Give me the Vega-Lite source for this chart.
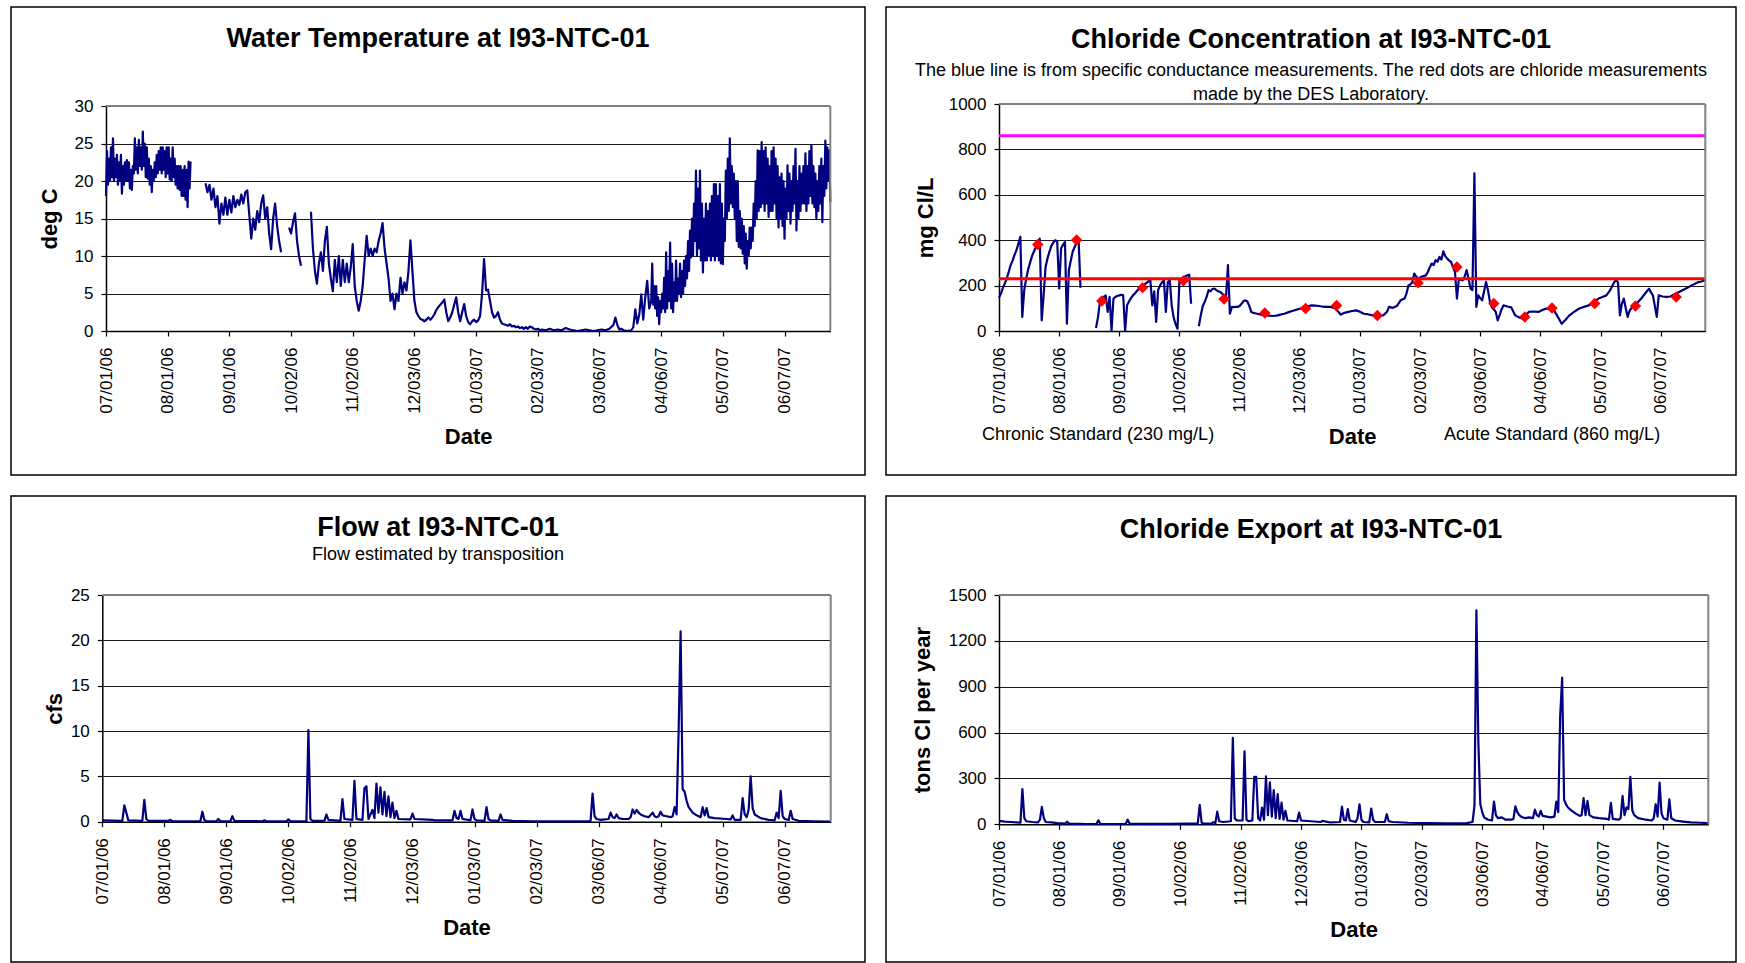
{
"$schema": "https://vega.github.io/schema/vega-lite/v6.json",
"background": "white",
"padding": {"left": 10, "top": 6, "right": 0, "bottom": 0},
"spacing": 21,
"columns": 2,
"bounds": "flush",
"resolve": {"scale": {"color": "independent"}, "legend": {"color": "independent"}},
"config": {
  "font": "Liberation Sans",
  "view": {"stroke": "#000000", "strokeWidth": 1.5},
  "axis": {"labelFont": "Liberation Sans", "labelFontSize": 17, "labelColor": "#000000", "titleFont": "Liberation Sans", "titleFontSize": 22, "titleFontWeight": "bold", "titleColor": "#000000", "domainColor": "#000000", "domainWidth": 1.5, "tickColor": "#000000", "tickSize": 5, "tickWidth": 1.2, "gridColor": "#1a1a1a", "gridWidth": 1, "labelFlush": false, "labelOverlap": false},
  "axisX": {"labelAngle": -90, "grid": false, "labelPadding": 11, "titlePadding": 13.5},
  "axisY": {"grid": true, "labelPadding": 8, "format": "d"},
  "title": {"font": "Liberation Sans", "fontSize": 27, "fontWeight": "bold", "color": "#000000", "subtitleFont": "Liberation Sans", "subtitleFontSize": 18, "subtitleColor": "#000000", "anchor": "middle", "frame": "group", "subtitleLineHeight": 24}
},
"datasets": {
"temp": [
{"d":"2006-07-01","v":18},{"d":"2006-07-01T12:00Z","v":24},{"d":"2006-07-02","v":19.5},{"d":"2006-07-02T12:00Z","v":23},{"d":"2006-07-03","v":20},{"d":"2006-07-03T12:00Z","v":24.5},{"d":"2006-07-04","v":20.5},{"d":"2006-07-04T12:00Z","v":25.7},{"d":"2006-07-05","v":20},{"d":"2006-07-05T12:00Z","v":23},{"d":"2006-07-06","v":20.5},{"d":"2006-07-06T12:00Z","v":23.5},{"d":"2006-07-07","v":19.5},{"d":"2006-07-07T12:00Z","v":22.5},{"d":"2006-07-08","v":20},{"d":"2006-07-08T12:00Z","v":23.5},{"d":"2006-07-09","v":18.3},{"d":"2006-07-09T12:00Z","v":22},{"d":"2006-07-10","v":19.5},{"d":"2006-07-10T12:00Z","v":22.5},{"d":"2006-07-11","v":20},{"d":"2006-07-11T12:00Z","v":22.8},{"d":"2006-07-12","v":20},{"d":"2006-07-12T12:00Z","v":22.5},{"d":"2006-07-13","v":19},{"d":"2006-07-13T12:00Z","v":21.5},{"d":"2006-07-14","v":18.8},{"d":"2006-07-14T12:00Z","v":22},{"d":"2006-07-15","v":21},{"d":"2006-07-15T12:00Z","v":25.7},{"d":"2006-07-16","v":21.5},{"d":"2006-07-16T12:00Z","v":24.5},{"d":"2006-07-17","v":21},{"d":"2006-07-17T12:00Z","v":25.5},{"d":"2006-07-18","v":22},{"d":"2006-07-18T12:00Z","v":24.5},{"d":"2006-07-19","v":21.5},{"d":"2006-07-19T12:00Z","v":26.6},{"d":"2006-07-20","v":22},{"d":"2006-07-20T12:00Z","v":25},{"d":"2006-07-21","v":20.5},{"d":"2006-07-21T12:00Z","v":24.5},{"d":"2006-07-22","v":20.3},{"d":"2006-07-22T12:00Z","v":23},{"d":"2006-07-23","v":19.5},{"d":"2006-07-23T12:00Z","v":22},{"d":"2006-07-24","v":18.5},{"d":"2006-07-24T12:00Z","v":21.5},{"d":"2006-07-25","v":20},{"d":"2006-07-25T12:00Z","v":22.5},{"d":"2006-07-26","v":20.5},{"d":"2006-07-26T12:00Z","v":23.5},{"d":"2006-07-27","v":21},{"d":"2006-07-27T12:00Z","v":24},{"d":"2006-07-28","v":21.5},{"d":"2006-07-28T12:00Z","v":24.5},{"d":"2006-07-29","v":21},{"d":"2006-07-29T12:00Z","v":24.5},{"d":"2006-07-30","v":21.5},{"d":"2006-07-30T12:00Z","v":24},{"d":"2006-07-31","v":20.5},{"d":"2006-07-31T12:00Z","v":24.5},
{"d":"2006-08-01","v":21},{"d":"2006-08-01T12:00Z","v":24.5},{"d":"2006-08-02","v":20.2},{"d":"2006-08-02T12:00Z","v":23},{"d":"2006-08-03","v":20},{"d":"2006-08-03T12:00Z","v":24.5},{"d":"2006-08-04","v":20.5},{"d":"2006-08-04T12:00Z","v":23},{"d":"2006-08-05","v":19.5},{"d":"2006-08-05T12:00Z","v":22},{"d":"2006-08-06","v":19},{"d":"2006-08-06T12:00Z","v":22},{"d":"2006-08-07","v":18.8},{"d":"2006-08-07T12:00Z","v":22},{"d":"2006-08-08","v":18},{"d":"2006-08-08T12:00Z","v":21.5},{"d":"2006-08-09","v":18},{"d":"2006-08-09T12:00Z","v":22},{"d":"2006-08-10","v":17.5},{"d":"2006-08-10T12:00Z","v":21.5},{"d":"2006-08-11","v":16.5},{"d":"2006-08-11T12:00Z","v":22.6},{"d":"2006-08-12","v":19},{"d":"2006-08-12T12:00Z","v":22.6},{"d":"2006-08-13","v":null},
{"d":"2006-08-20","v":19.7},{"d":"2006-08-21","v":18.5},{"d":"2006-08-22","v":19.5},{"d":"2006-08-23","v":17.5},{"d":"2006-08-24","v":19},{"d":"2006-08-25","v":16.5},{"d":"2006-08-26","v":18},{"d":"2006-08-27","v":14.3},{"d":"2006-08-28","v":17},{"d":"2006-08-29","v":15.5},{"d":"2006-08-30","v":17.8},{"d":"2006-08-31","v":15.5},
{"d":"2006-09-01","v":17.5},{"d":"2006-09-02","v":15.8},{"d":"2006-09-03","v":18},{"d":"2006-09-04","v":16.5},{"d":"2006-09-05","v":17.5},{"d":"2006-09-06","v":16.8},{"d":"2006-09-07","v":18.2},{"d":"2006-09-08","v":17},{"d":"2006-09-09","v":18.5},{"d":"2006-09-10","v":18.75},{"d":"2006-09-11","v":15.5},{"d":"2006-09-12","v":12.3},{"d":"2006-09-13","v":15},{"d":"2006-09-14","v":13.5},{"d":"2006-09-15","v":16},{"d":"2006-09-16","v":14.5},{"d":"2006-09-17","v":17},{"d":"2006-09-18","v":18.1},{"d":"2006-09-19","v":15},{"d":"2006-09-20","v":16.5},{"d":"2006-09-21","v":13},{"d":"2006-09-22","v":10.9},{"d":"2006-09-23","v":15},{"d":"2006-09-24","v":17},{"d":"2006-09-25","v":14},{"d":"2006-09-26","v":12},{"d":"2006-09-27","v":10.5},{"d":"2006-09-28","v":null},
{"d":"2006-10-01","v":13.8},{"d":"2006-10-02","v":13},{"d":"2006-10-03","v":14.5},{"d":"2006-10-04","v":15.7},{"d":"2006-10-05","v":12},{"d":"2006-10-06","v":10},{"d":"2006-10-07","v":8.7},{"d":"2006-10-08","v":null},
{"d":"2006-10-12","v":15.9},{"d":"2006-10-13","v":11},{"d":"2006-10-14","v":8},{"d":"2006-10-15","v":6.3},{"d":"2006-10-16","v":9},{"d":"2006-10-17","v":10.5},{"d":"2006-10-18","v":8},{"d":"2006-10-19","v":12},{"d":"2006-10-20","v":13.9},{"d":"2006-10-21","v":9},{"d":"2006-10-22","v":7},{"d":"2006-10-23","v":5.3},{"d":"2006-10-24","v":9.5},{"d":"2006-10-25","v":6.5},{"d":"2006-10-26","v":10},{"d":"2006-10-27","v":6},{"d":"2006-10-28","v":9.5},{"d":"2006-10-29","v":6.5},{"d":"2006-10-30","v":9},{"d":"2006-10-31","v":6.5},
{"d":"2006-11-01","v":8.5},{"d":"2006-11-02","v":11.6},{"d":"2006-11-03","v":6},{"d":"2006-11-04","v":4},{"d":"2006-11-05","v":2.7},{"d":"2006-11-06","v":4},{"d":"2006-11-07","v":6},{"d":"2006-11-08","v":9.5},{"d":"2006-11-09","v":12.7},{"d":"2006-11-10","v":10},{"d":"2006-11-11","v":11},{"d":"2006-11-12","v":10},{"d":"2006-11-13","v":11},{"d":"2006-11-14","v":10.5},{"d":"2006-11-15","v":12},{"d":"2006-11-16","v":13},{"d":"2006-11-17","v":14.4},{"d":"2006-11-18","v":11},{"d":"2006-11-19","v":9},{"d":"2006-11-20","v":7},{"d":"2006-11-21","v":4},{"d":"2006-11-22","v":5},{"d":"2006-11-23","v":2.9},{"d":"2006-11-24","v":5},{"d":"2006-11-25","v":4},{"d":"2006-11-26","v":7.1},{"d":"2006-11-27","v":5},{"d":"2006-11-28","v":6.5},{"d":"2006-11-29","v":5.4},{"d":"2006-11-30","v":8},
{"d":"2006-12-01","v":12.1},{"d":"2006-12-02","v":8},{"d":"2006-12-03","v":4},{"d":"2006-12-04","v":2.5},{"d":"2006-12-05","v":2},{"d":"2006-12-06","v":1.6},{"d":"2006-12-07","v":1.5},{"d":"2006-12-08","v":1.3},{"d":"2006-12-09","v":1.5},{"d":"2006-12-10","v":1.8},{"d":"2006-12-11","v":1.5},{"d":"2006-12-12","v":1.8},{"d":"2006-12-13","v":2.2},{"d":"2006-12-14","v":2.8},{"d":"2006-12-15","v":3.2},{"d":"2006-12-16","v":3.5},{"d":"2006-12-17","v":3.8},{"d":"2006-12-18","v":4.2},{"d":"2006-12-19","v":2.5},{"d":"2006-12-20","v":1.3},{"d":"2006-12-21","v":1.8},{"d":"2006-12-22","v":2.5},{"d":"2006-12-23","v":3.5},{"d":"2006-12-24","v":4.5},{"d":"2006-12-25","v":2.5},{"d":"2006-12-26","v":1.3},{"d":"2006-12-27","v":2.5},{"d":"2006-12-28","v":3.6},{"d":"2006-12-29","v":2},{"d":"2006-12-30","v":1.2},{"d":"2006-12-31","v":0.9},
{"d":"2007-01-01","v":1.3},{"d":"2007-01-02","v":1.5},{"d":"2007-01-03","v":1.2},{"d":"2007-01-04","v":1.4},{"d":"2007-01-05","v":2},{"d":"2007-01-06","v":5},{"d":"2007-01-07","v":9.6},{"d":"2007-01-08","v":5.4},{"d":"2007-01-09","v":5.5},{"d":"2007-01-10","v":4},{"d":"2007-01-11","v":2.5},{"d":"2007-01-12","v":1.8},{"d":"2007-01-13","v":2},{"d":"2007-01-14","v":2.5},{"d":"2007-01-15","v":1.5},{"d":"2007-01-16","v":1},{"d":"2007-01-17","v":0.9},{"d":"2007-01-18","v":0.8},{"d":"2007-01-19","v":0.7},{"d":"2007-01-20","v":0.9},{"d":"2007-01-21","v":0.6},{"d":"2007-01-22","v":0.7},{"d":"2007-01-23","v":0.5},{"d":"2007-01-24","v":0.6},{"d":"2007-01-25","v":0.4},{"d":"2007-01-26","v":0.5},{"d":"2007-01-27","v":0.3},{"d":"2007-01-28","v":0.5},{"d":"2007-01-29","v":0.3},{"d":"2007-01-30","v":0.6},{"d":"2007-01-31","v":0.5},
{"d":"2007-02-01","v":0.3},{"d":"2007-02-02","v":0.2},{"d":"2007-02-03","v":0.3},{"d":"2007-02-04","v":0.1},{"d":"2007-02-05","v":0.2},{"d":"2007-02-07","v":0.1},{"d":"2007-02-09","v":0.3},{"d":"2007-02-11","v":0.1},{"d":"2007-02-13","v":0.2},{"d":"2007-02-15","v":0.1},{"d":"2007-02-17","v":0.4},{"d":"2007-02-19","v":0.2},{"d":"2007-02-21","v":0.1},{"d":"2007-02-23","v":0},{"d":"2007-02-25","v":0.1},{"d":"2007-02-27","v":0.2},
{"d":"2007-03-01","v":0.1},{"d":"2007-03-03","v":0},{"d":"2007-03-05","v":0.1},{"d":"2007-03-07","v":0.2},{"d":"2007-03-09","v":0.1},{"d":"2007-03-11","v":0.3},{"d":"2007-03-13","v":0.8},{"d":"2007-03-14","v":1.8},{"d":"2007-03-15","v":0.8},{"d":"2007-03-16","v":0.2},{"d":"2007-03-17","v":0.3},{"d":"2007-03-18","v":0.1},{"d":"2007-03-20","v":0},{"d":"2007-03-22","v":0.1},{"d":"2007-03-23","v":0.5},{"d":"2007-03-24","v":2.9},{"d":"2007-03-25","v":1},{"d":"2007-03-26","v":2.2},{"d":"2007-03-27","v":4.9},{"d":"2007-03-28","v":1.5},{"d":"2007-03-29","v":4.5},{"d":"2007-03-30","v":6.7},{"d":"2007-03-31","v":3},
{"d":"2007-04-01","v":4},{"d":"2007-04-01T12:00Z","v":9},{"d":"2007-04-02","v":3.5},{"d":"2007-04-02T12:00Z","v":6},{"d":"2007-04-03","v":3},{"d":"2007-04-03T12:00Z","v":6},{"d":"2007-04-04","v":2},{"d":"2007-04-04T12:00Z","v":4.5},{"d":"2007-04-05","v":0.9},{"d":"2007-04-05T12:00Z","v":4},{"d":"2007-04-06","v":2.5},{"d":"2007-04-06T12:00Z","v":5},{"d":"2007-04-07","v":3},{"d":"2007-04-07T12:00Z","v":7.1},{"d":"2007-04-08","v":2.5},{"d":"2007-04-08T12:00Z","v":10.5},{"d":"2007-04-09","v":3},{"d":"2007-04-09T12:00Z","v":8},{"d":"2007-04-10","v":4},{"d":"2007-04-10T12:00Z","v":11.8},{"d":"2007-04-11","v":3},{"d":"2007-04-11T12:00Z","v":9},{"d":"2007-04-12","v":2.5},{"d":"2007-04-12T12:00Z","v":6.5},{"d":"2007-04-13","v":4},{"d":"2007-04-13T12:00Z","v":9.4},{"d":"2007-04-14","v":4},{"d":"2007-04-14T12:00Z","v":7},{"d":"2007-04-15","v":5},{"d":"2007-04-15T12:00Z","v":9},{"d":"2007-04-16","v":4.5},{"d":"2007-04-16T12:00Z","v":8},{"d":"2007-04-17","v":5},{"d":"2007-04-17T12:00Z","v":9.4},{"d":"2007-04-18","v":6},{"d":"2007-04-18T12:00Z","v":10},{"d":"2007-04-19","v":7},{"d":"2007-04-19T12:00Z","v":12},{"d":"2007-04-20","v":8},{"d":"2007-04-20T12:00Z","v":13.4},{"d":"2007-04-21","v":9.8},{"d":"2007-04-21T12:00Z","v":15},{"d":"2007-04-22","v":10},{"d":"2007-04-22T12:00Z","v":17},{"d":"2007-04-23","v":12},{"d":"2007-04-23T12:00Z","v":21.4},{"d":"2007-04-24","v":10},{"d":"2007-04-24T12:00Z","v":19},{"d":"2007-04-25","v":11},{"d":"2007-04-25T12:00Z","v":21.4},{"d":"2007-04-26","v":9.4},{"d":"2007-04-26T12:00Z","v":17},{"d":"2007-04-27","v":7.8},{"d":"2007-04-27T12:00Z","v":15},{"d":"2007-04-28","v":9.4},{"d":"2007-04-28T12:00Z","v":17},{"d":"2007-04-29","v":9.4},{"d":"2007-04-29T12:00Z","v":16},{"d":"2007-04-30","v":10},{"d":"2007-04-30T12:00Z","v":17},
{"d":"2007-05-01","v":9.4},{"d":"2007-05-01T12:00Z","v":18},{"d":"2007-05-02","v":10},{"d":"2007-05-02T12:00Z","v":19.6},{"d":"2007-05-03","v":9.4},{"d":"2007-05-03T12:00Z","v":19.6},{"d":"2007-05-04","v":10},{"d":"2007-05-04T12:00Z","v":18},{"d":"2007-05-05","v":9.4},{"d":"2007-05-05T12:00Z","v":19.6},{"d":"2007-05-06","v":9},{"d":"2007-05-06T12:00Z","v":17},{"d":"2007-05-07","v":8.9},{"d":"2007-05-07T12:00Z","v":15},{"d":"2007-05-08","v":12},{"d":"2007-05-08T12:00Z","v":21.4},{"d":"2007-05-09","v":15},{"d":"2007-05-09T12:00Z","v":23},{"d":"2007-05-10","v":16},{"d":"2007-05-10T12:00Z","v":25.7},{"d":"2007-05-11","v":17},{"d":"2007-05-11T12:00Z","v":22},{"d":"2007-05-12","v":16.5},{"d":"2007-05-12T12:00Z","v":21},{"d":"2007-05-13","v":15},{"d":"2007-05-13T12:00Z","v":20},{"d":"2007-05-14","v":12},{"d":"2007-05-14T12:00Z","v":20},{"d":"2007-05-15","v":11.2},{"d":"2007-05-15T12:00Z","v":16},{"d":"2007-05-16","v":11},{"d":"2007-05-16T12:00Z","v":15},{"d":"2007-05-17","v":10.3},{"d":"2007-05-17T12:00Z","v":14},{"d":"2007-05-18","v":9},{"d":"2007-05-18T12:00Z","v":13},{"d":"2007-05-19","v":8.3},{"d":"2007-05-19T12:00Z","v":12},{"d":"2007-05-20","v":10},{"d":"2007-05-20T12:00Z","v":13.8},{"d":"2007-05-21","v":11},{"d":"2007-05-21T12:00Z","v":13.8},{"d":"2007-05-22","v":12},{"d":"2007-05-22T12:00Z","v":17},{"d":"2007-05-23","v":14},{"d":"2007-05-23T12:00Z","v":20},{"d":"2007-05-24","v":15},{"d":"2007-05-24T12:00Z","v":24.1},{"d":"2007-05-25","v":16},{"d":"2007-05-25T12:00Z","v":24},{"d":"2007-05-26","v":16.5},{"d":"2007-05-26T12:00Z","v":25.2},{"d":"2007-05-27","v":17},{"d":"2007-05-27T12:00Z","v":24},{"d":"2007-05-28","v":16},{"d":"2007-05-28T12:00Z","v":24.5},{"d":"2007-05-29","v":17},{"d":"2007-05-29T12:00Z","v":23},{"d":"2007-05-30","v":15.2},{"d":"2007-05-30T12:00Z","v":22},{"d":"2007-05-31","v":16},{"d":"2007-05-31T12:00Z","v":24},
{"d":"2007-06-01","v":16},{"d":"2007-06-01T12:00Z","v":24.5},{"d":"2007-06-02","v":17},{"d":"2007-06-02T12:00Z","v":23},{"d":"2007-06-03","v":15},{"d":"2007-06-03T12:00Z","v":22},{"d":"2007-06-04","v":13.8},{"d":"2007-06-04T12:00Z","v":20.5},{"d":"2007-06-05","v":15},{"d":"2007-06-05T12:00Z","v":21},{"d":"2007-06-06","v":14},{"d":"2007-06-06T12:00Z","v":20},{"d":"2007-06-07","v":12.3},{"d":"2007-06-07T12:00Z","v":19},{"d":"2007-06-08","v":15},{"d":"2007-06-08T12:00Z","v":22.1},{"d":"2007-06-09","v":16},{"d":"2007-06-09T12:00Z","v":21},{"d":"2007-06-10","v":14.3},{"d":"2007-06-10T12:00Z","v":20},{"d":"2007-06-11","v":16},{"d":"2007-06-11T12:00Z","v":22},{"d":"2007-06-12","v":17},{"d":"2007-06-12T12:00Z","v":24.3},{"d":"2007-06-13","v":13.4},{"d":"2007-06-13T12:00Z","v":20},{"d":"2007-06-14","v":15},{"d":"2007-06-14T12:00Z","v":22},{"d":"2007-06-15","v":16},{"d":"2007-06-15T12:00Z","v":21},{"d":"2007-06-16","v":17},{"d":"2007-06-16T12:00Z","v":22},{"d":"2007-06-17","v":17},{"d":"2007-06-17T12:00Z","v":23.7},{"d":"2007-06-18","v":16},{"d":"2007-06-18T12:00Z","v":22},{"d":"2007-06-19","v":17},{"d":"2007-06-19T12:00Z","v":24},{"d":"2007-06-20","v":18},{"d":"2007-06-20T12:00Z","v":24.8},{"d":"2007-06-21","v":17},{"d":"2007-06-21T12:00Z","v":22},{"d":"2007-06-22","v":16.5},{"d":"2007-06-22T12:00Z","v":21},{"d":"2007-06-23","v":15},{"d":"2007-06-23T12:00Z","v":20},{"d":"2007-06-24","v":16},{"d":"2007-06-24T12:00Z","v":22},{"d":"2007-06-25","v":17},{"d":"2007-06-25T12:00Z","v":23},{"d":"2007-06-26","v":14.5},{"d":"2007-06-26T12:00Z","v":22},{"d":"2007-06-27","v":18},{"d":"2007-06-27T12:00Z","v":25.4},{"d":"2007-06-28","v":19},{"d":"2007-06-28T12:00Z","v":24.5},{"d":"2007-06-29","v":20},{"d":"2007-06-29T12:00Z","v":24.1},{"d":"2007-06-30","v":17.2}
],
"chl": [
{"d":"2006-07-01","v":147},{"d":"2006-07-02","v":165},{"d":"2006-07-03","v":190},{"d":"2006-07-04","v":210},{"d":"2006-07-05","v":231},{"d":"2006-07-06","v":260},{"d":"2006-07-07","v":290},{"d":"2006-07-08","v":310},{"d":"2006-07-09","v":335},{"d":"2006-07-10","v":356},{"d":"2006-07-11","v":385},{"d":"2006-07-12","v":415},{"d":"2006-07-13","v":62},{"d":"2006-07-14","v":180},{"d":"2006-07-15","v":230},{"d":"2006-07-16","v":270},{"d":"2006-07-17","v":300},{"d":"2006-07-18","v":330},{"d":"2006-07-19","v":350},{"d":"2006-07-20","v":370},{"d":"2006-07-21","v":385},{"d":"2006-07-22","v":407},{"d":"2006-07-23","v":47},{"d":"2006-07-24","v":157},{"d":"2006-07-25","v":282},{"d":"2006-07-26","v":320},{"d":"2006-07-27","v":350},{"d":"2006-07-28","v":375},{"d":"2006-07-29","v":390},{"d":"2006-07-30","v":400},{"d":"2006-07-31","v":395},{"d":"2006-08-01","v":187},{"d":"2006-08-02","v":363},{"d":"2006-08-03","v":380},{"d":"2006-08-04","v":393},{"d":"2006-08-05","v":32},{"d":"2006-08-06","v":268},{"d":"2006-08-07","v":310},{"d":"2006-08-08","v":350},{"d":"2006-08-09","v":370},{"d":"2006-08-10","v":390},{"d":"2006-08-11","v":407},{"d":"2006-08-12","v":190},{"d":"2006-08-13","v":null},
{"d":"2006-08-20","v":13},{"d":"2006-08-21","v":60},{"d":"2006-08-22","v":128},{"d":"2006-08-23","v":135},{"d":"2006-08-24","v":150},{"d":"2006-08-25","v":157},{"d":"2006-08-26","v":84},{"d":"2006-08-27","v":150},{"d":"2006-08-28","v":3},{"d":"2006-08-29","v":143},{"d":"2006-08-30","v":150},{"d":"2006-08-31","v":155},{"d":"2006-09-01","v":157},{"d":"2006-09-02","v":160},{"d":"2006-09-03","v":157},{"d":"2006-09-04","v":0},{"d":"2006-09-05","v":113},{"d":"2006-09-06","v":130},{"d":"2006-09-07","v":145},{"d":"2006-09-08","v":157},{"d":"2006-09-09","v":165},{"d":"2006-09-10","v":175},{"d":"2006-09-11","v":185},{"d":"2006-09-12","v":190},{"d":"2006-09-13","v":198},{"d":"2006-09-14","v":205},{"d":"2006-09-15","v":212},{"d":"2006-09-16","v":218},{"d":"2006-09-17","v":224},{"d":"2006-09-18","v":113},{"d":"2006-09-19","v":175},{"d":"2006-09-20","v":40},{"d":"2006-09-21","v":180},{"d":"2006-09-22","v":200},{"d":"2006-09-23","v":215},{"d":"2006-09-24","v":224},{"d":"2006-09-25","v":84},{"d":"2006-09-26","v":216},{"d":"2006-09-27","v":224},{"d":"2006-09-28","v":113},{"d":"2006-09-29","v":60},{"d":"2006-09-30","v":30},{"d":"2006-10-01","v":10},{"d":"2006-10-02","v":224},{"d":"2006-10-03","v":230},{"d":"2006-10-04","v":236},{"d":"2006-10-05","v":240},{"d":"2006-10-06","v":245},{"d":"2006-10-07","v":248},{"d":"2006-10-08","v":120},{"d":"2006-10-09","v":null},
{"d":"2006-10-12","v":21},{"d":"2006-10-13","v":70},{"d":"2006-10-14","v":110},{"d":"2006-10-15","v":128},{"d":"2006-10-16","v":150},{"d":"2006-10-17","v":180},{"d":"2006-10-18","v":175},{"d":"2006-10-19","v":185},{"d":"2006-10-20","v":187},{"d":"2006-10-21","v":180},{"d":"2006-10-22","v":175},{"d":"2006-10-23","v":172},{"d":"2006-10-24","v":165},{"d":"2006-10-25","v":155},{"d":"2006-10-26","v":150},{"d":"2006-10-27","v":290},{"d":"2006-10-28","v":76},{"d":"2006-10-29","v":106},{"d":"2006-10-30","v":105},{"d":"2006-10-31","v":106},{"d":"2006-11-01","v":106},{"d":"2006-11-02","v":110},{"d":"2006-11-03","v":120},{"d":"2006-11-04","v":132},{"d":"2006-11-05","v":135},{"d":"2006-11-06","v":130},{"d":"2006-11-07","v":110},{"d":"2006-11-08","v":84},{"d":"2006-11-09","v":80},{"d":"2006-11-10","v":78},{"d":"2006-11-11","v":76},{"d":"2006-11-13","v":72},{"d":"2006-11-15","v":69},{"d":"2006-11-17","v":68},{"d":"2006-11-19","v":66},{"d":"2006-11-21","v":68},{"d":"2006-11-23","v":72},{"d":"2006-11-25","v":76},{"d":"2006-11-27","v":82},{"d":"2006-11-29","v":88},{"d":"2006-12-01","v":93},{"d":"2006-12-03","v":98},{"d":"2006-12-05","v":104},{"d":"2006-12-07","v":108},{"d":"2006-12-09","v":113},{"d":"2006-12-11","v":112},{"d":"2006-12-13","v":110},{"d":"2006-12-15","v":107},{"d":"2006-12-17","v":106},{"d":"2006-12-19","v":106},{"d":"2006-12-21","v":100},{"d":"2006-12-23","v":84},{"d":"2006-12-24","v":72},{"d":"2006-12-26","v":80},{"d":"2006-12-28","v":84},{"d":"2006-12-30","v":88},
{"d":"2007-01-01","v":91},{"d":"2007-01-03","v":85},{"d":"2007-01-05","v":76},{"d":"2007-01-07","v":74},{"d":"2007-01-09","v":70},{"d":"2007-01-11","v":66},{"d":"2007-01-13","v":68},{"d":"2007-01-15","v":69},{"d":"2007-01-17","v":85},{"d":"2007-01-18","v":106},{"d":"2007-01-20","v":102},{"d":"2007-01-22","v":110},{"d":"2007-01-24","v":135},{"d":"2007-01-26","v":143},{"d":"2007-01-27","v":165},{"d":"2007-01-28","v":201},{"d":"2007-01-29","v":205},{"d":"2007-01-30","v":215},{"d":"2007-01-31","v":253},{"d":"2007-02-01","v":240},{"d":"2007-02-02","v":231},{"d":"2007-02-04","v":240},{"d":"2007-02-06","v":245},{"d":"2007-02-07","v":260},{"d":"2007-02-08","v":280},{"d":"2007-02-09","v":297},{"d":"2007-02-10","v":290},{"d":"2007-02-11","v":312},{"d":"2007-02-12","v":305},{"d":"2007-02-13","v":326},{"d":"2007-02-14","v":315},{"d":"2007-02-15","v":351},{"d":"2007-02-16","v":330},{"d":"2007-02-17","v":319},{"d":"2007-02-18","v":310},{"d":"2007-02-19","v":304},{"d":"2007-02-20","v":280},{"d":"2007-02-21","v":260},{"d":"2007-02-22","v":143},{"d":"2007-02-23","v":230},{"d":"2007-02-24","v":225},{"d":"2007-02-25","v":223},{"d":"2007-02-26","v":240},{"d":"2007-02-27","v":268},{"d":"2007-02-28","v":230},
{"d":"2007-03-01","v":187},{"d":"2007-03-02","v":180},{"d":"2007-03-03","v":694},{"d":"2007-03-04","v":106},{"d":"2007-03-05","v":157},{"d":"2007-03-06","v":145},{"d":"2007-03-07","v":135},{"d":"2007-03-08","v":175},{"d":"2007-03-09","v":216},{"d":"2007-03-10","v":180},{"d":"2007-03-11","v":128},{"d":"2007-03-12","v":105},{"d":"2007-03-13","v":95},{"d":"2007-03-14","v":84},{"d":"2007-03-15","v":47},{"d":"2007-03-16","v":70},{"d":"2007-03-17","v":95},{"d":"2007-03-18","v":113},{"d":"2007-03-20","v":108},{"d":"2007-03-22","v":104},{"d":"2007-03-24","v":69},{"d":"2007-03-26","v":60},{"d":"2007-03-28","v":54},{"d":"2007-03-30","v":75},{"d":"2007-03-31","v":84},{"d":"2007-04-02","v":86},{"d":"2007-04-05","v":84},{"d":"2007-04-07","v":92},{"d":"2007-04-09","v":99},{"d":"2007-04-11","v":95},{"d":"2007-04-13","v":91},{"d":"2007-04-15","v":62},{"d":"2007-04-17","v":32},{"d":"2007-04-19","v":50},{"d":"2007-04-21","v":69},{"d":"2007-04-23","v":82},{"d":"2007-04-26","v":99},{"d":"2007-04-28","v":105},{"d":"2007-05-01","v":113},{"d":"2007-05-03","v":125},{"d":"2007-05-06","v":143},{"d":"2007-05-08","v":150},{"d":"2007-05-10","v":157},{"d":"2007-05-12","v":180},{"d":"2007-05-14","v":215},{"d":"2007-05-15","v":224},{"d":"2007-05-16","v":215},{"d":"2007-05-17","v":69},{"d":"2007-05-18","v":120},{"d":"2007-05-19","v":143},{"d":"2007-05-20","v":100},{"d":"2007-05-21","v":62},{"d":"2007-05-22","v":90},{"d":"2007-05-24","v":113},{"d":"2007-05-26","v":125},{"d":"2007-05-28","v":143},{"d":"2007-05-30","v":165},{"d":"2007-06-01","v":187},{"d":"2007-06-02","v":170},{"d":"2007-06-03","v":157},{"d":"2007-06-05","v":62},{"d":"2007-06-06","v":157},{"d":"2007-06-08","v":152},{"d":"2007-06-10","v":150},{"d":"2007-06-12","v":152},{"d":"2007-06-13","v":157},{"d":"2007-06-15","v":165},{"d":"2007-06-17","v":174},{"d":"2007-06-20","v":187},{"d":"2007-06-23","v":201},{"d":"2007-06-26","v":214},{"d":"2007-06-28","v":218},{"d":"2007-06-30","v":224}
],
"lab": [
{"d":"2006-07-21","v":381},{"d":"2006-08-10","v":401},{"d":"2006-08-23","v":132},{"d":"2006-09-13","v":191},{"d":"2006-10-04","v":221},{"d":"2006-10-25","v":141},{"d":"2006-11-15","v":79},{"d":"2006-12-06","v":99},{"d":"2006-12-22","v":112},{"d":"2007-01-12","v":68},{"d":"2007-02-02","v":212},{"d":"2007-02-22","v":282},{"d":"2007-03-13","v":121},{"d":"2007-03-29","v":62},{"d":"2007-04-12","v":101},{"d":"2007-05-04","v":121},{"d":"2007-05-25","v":110},{"d":"2007-06-15","v":150}
],
"flow": [
{"d":"2006-07-01","v":0.15},{"d":"2006-07-11","v":0.1},{"d":"2006-07-12","v":1.8},{"d":"2006-07-13","v":1.0},{"d":"2006-07-14","v":0.15},{"d":"2006-07-21","v":0.1},{"d":"2006-07-22","v":2.4},{"d":"2006-07-23","v":0.3},{"d":"2006-07-24","v":0.1},{"d":"2006-08-03","v":0.1},{"d":"2006-08-04","v":0.2},{"d":"2006-08-05","v":0.05},{"d":"2006-08-19","v":0.05},{"d":"2006-08-20","v":1.1},{"d":"2006-08-21","v":0.2},{"d":"2006-08-22","v":0.05},{"d":"2006-08-27","v":0.05},{"d":"2006-08-28","v":0.3},{"d":"2006-08-29","v":0.05},{"d":"2006-09-03","v":0.05},{"d":"2006-09-04","v":0.6},{"d":"2006-09-05","v":0.1},{"d":"2006-09-19","v":0.05},{"d":"2006-09-20","v":0.15},{"d":"2006-09-21","v":0.05},{"d":"2006-10-01","v":0.05},{"d":"2006-10-02","v":0.25},{"d":"2006-10-03","v":0.05},{"d":"2006-10-11","v":0.05},{"d":"2006-10-12","v":10.1},{"d":"2006-10-13","v":0.3},{"d":"2006-10-14","v":0.1},{"d":"2006-10-20","v":0.1},{"d":"2006-10-21","v":0.8},{"d":"2006-10-22","v":0.2},{"d":"2006-10-28","v":0.1},{"d":"2006-10-29","v":2.5},{"d":"2006-10-30","v":0.3},{"d":"2006-11-03","v":0.2},{"d":"2006-11-04","v":4.5},{"d":"2006-11-05","v":0.3},{"d":"2006-11-08","v":0.2},{"d":"2006-11-09","v":3.7},{"d":"2006-11-10","v":3.9},{"d":"2006-11-11","v":0.3},{"d":"2006-11-13","v":1.3},{"d":"2006-11-14","v":0.4},{"d":"2006-11-15","v":4.2},{"d":"2006-11-16","v":1.0},{"d":"2006-11-17","v":3.8},{"d":"2006-11-18","v":0.8},{"d":"2006-11-19","v":3.3},{"d":"2006-11-20","v":0.6},{"d":"2006-11-21","v":2.8},{"d":"2006-11-22","v":0.5},{"d":"2006-11-23","v":2.1},{"d":"2006-11-24","v":0.4},{"d":"2006-11-25","v":1.2},{"d":"2006-11-26","v":0.3},{"d":"2006-12-02","v":0.25},{"d":"2006-12-03","v":0.9},{"d":"2006-12-04","v":0.3},{"d":"2006-12-13","v":0.2},{"d":"2006-12-14","v":0.15},{"d":"2006-12-23","v":0.15},{"d":"2006-12-24","v":1.2},{"d":"2006-12-25","v":0.4},{"d":"2006-12-26","v":0.3},{"d":"2006-12-27","v":1.2},{"d":"2006-12-28","v":0.3},{"d":"2006-12-31","v":0.2},
{"d":"2007-01-01","v":0.15},{"d":"2007-01-02","v":1.35},{"d":"2007-01-03","v":0.3},{"d":"2007-01-04","v":0.15},{"d":"2007-01-08","v":0.1},{"d":"2007-01-09","v":1.6},{"d":"2007-01-10","v":0.3},{"d":"2007-01-11","v":0.15},{"d":"2007-01-15","v":0.1},{"d":"2007-01-16","v":0.8},{"d":"2007-01-17","v":0.2},{"d":"2007-01-22","v":0.1},{"d":"2007-02-01","v":0.05},{"d":"2007-02-16","v":0.05},{"d":"2007-03-01","v":0.05},{"d":"2007-03-02","v":0.1},{"d":"2007-03-03","v":3.1},{"d":"2007-03-04","v":0.6},{"d":"2007-03-05","v":0.3},{"d":"2007-03-07","v":0.2},{"d":"2007-03-11","v":0.3},{"d":"2007-03-12","v":1.0},{"d":"2007-03-13","v":0.5},{"d":"2007-03-14","v":0.4},{"d":"2007-03-15","v":0.8},{"d":"2007-03-16","v":0.4},{"d":"2007-03-18","v":0.3},{"d":"2007-03-21","v":0.3},{"d":"2007-03-22","v":0.5},{"d":"2007-03-23","v":1.35},{"d":"2007-03-24","v":0.9},{"d":"2007-03-25","v":1.3},{"d":"2007-03-26","v":1.0},{"d":"2007-03-27","v":0.8},{"d":"2007-03-29","v":0.6},{"d":"2007-03-31","v":0.5},{"d":"2007-04-02","v":1.0},{"d":"2007-04-03","v":0.6},{"d":"2007-04-04","v":0.5},{"d":"2007-04-05","v":0.6},{"d":"2007-04-06","v":1.1},{"d":"2007-04-07","v":0.7},{"d":"2007-04-09","v":0.6},{"d":"2007-04-11","v":0.5},{"d":"2007-04-12","v":0.6},{"d":"2007-04-13","v":1.6},{"d":"2007-04-14","v":0.8},{"d":"2007-04-15","v":10},{"d":"2007-04-16","v":21},{"d":"2007-04-17","v":3.6},{"d":"2007-04-18","v":3.3},{"d":"2007-04-19","v":2.3},{"d":"2007-04-20","v":1.6},{"d":"2007-04-22","v":1.0},{"d":"2007-04-24","v":0.7},{"d":"2007-04-26","v":0.5},{"d":"2007-04-27","v":1.6},{"d":"2007-04-28","v":0.7},{"d":"2007-04-29","v":1.5},{"d":"2007-04-30","v":0.5},{"d":"2007-05-03","v":0.4},{"d":"2007-05-09","v":0.3},{"d":"2007-05-11","v":0.25},{"d":"2007-05-12","v":0.7},{"d":"2007-05-13","v":0.2},{"d":"2007-05-16","v":0.2},{"d":"2007-05-17","v":2.6},{"d":"2007-05-18","v":0.8},{"d":"2007-05-19","v":0.5},{"d":"2007-05-20","v":1.35},{"d":"2007-05-21","v":5.0},{"d":"2007-05-22","v":1.5},{"d":"2007-05-23","v":0.8},{"d":"2007-05-26","v":0.4},{"d":"2007-05-30","v":0.2},{"d":"2007-06-02","v":0.15},{"d":"2007-06-03","v":1.0},{"d":"2007-06-04","v":0.4},{"d":"2007-06-05","v":3.4},{"d":"2007-06-06","v":0.6},{"d":"2007-06-07","v":0.3},{"d":"2007-06-09","v":0.2},{"d":"2007-06-10","v":1.2},{"d":"2007-06-11","v":0.3},{"d":"2007-06-14","v":0.1},{"d":"2007-06-21","v":0.05},{"d":"2007-06-30","v":0.02}
],
"exp": [
{"d":"2006-07-01","v":22},{"d":"2006-07-04","v":18},{"d":"2006-07-07","v":15},{"d":"2006-07-10","v":12},{"d":"2006-07-12","v":10},{"d":"2006-07-13","v":230},{"d":"2006-07-14","v":40},{"d":"2006-07-15","v":20},{"d":"2006-07-18","v":15},{"d":"2006-07-21","v":12},{"d":"2006-07-22","v":30},{"d":"2006-07-23","v":114},{"d":"2006-07-24","v":40},{"d":"2006-07-25","v":15},{"d":"2006-07-28","v":12},{"d":"2006-07-31","v":8},{"d":"2006-08-04","v":5},{"d":"2006-08-05","v":17},{"d":"2006-08-06","v":3},{"d":"2006-08-11","v":3},{"d":"2006-08-15","v":2},{"d":"2006-08-20","v":2},{"d":"2006-08-21","v":26},{"d":"2006-08-22","v":2},{"d":"2006-08-30","v":2},{"d":"2006-09-04","v":2},{"d":"2006-09-05","v":30},{"d":"2006-09-06","v":5},{"d":"2006-09-15","v":3},{"d":"2006-09-25","v":3},{"d":"2006-10-05","v":4},{"d":"2006-10-11","v":5},{"d":"2006-10-12","v":127},{"d":"2006-10-13","v":10},{"d":"2006-10-14","v":5},{"d":"2006-10-18","v":5},{"d":"2006-10-19","v":15},{"d":"2006-10-20","v":5},{"d":"2006-10-21","v":83},{"d":"2006-10-22","v":20},{"d":"2006-10-24","v":15},{"d":"2006-10-28","v":20},{"d":"2006-10-29","v":565},{"d":"2006-10-30","v":40},{"d":"2006-10-31","v":25},{"d":"2006-11-03","v":25},{"d":"2006-11-04","v":477},{"d":"2006-11-05","v":30},{"d":"2006-11-06","v":20},{"d":"2006-11-08","v":25},{"d":"2006-11-09","v":311},{"d":"2006-11-10","v":311},{"d":"2006-11-11","v":40},{"d":"2006-11-12","v":25},{"d":"2006-11-13","v":110},{"d":"2006-11-14","v":30},{"d":"2006-11-15","v":313},{"d":"2006-11-16","v":60},{"d":"2006-11-17","v":274},{"d":"2006-11-18","v":50},{"d":"2006-11-19","v":223},{"d":"2006-11-20","v":40},{"d":"2006-11-21","v":197},{"d":"2006-11-22","v":35},{"d":"2006-11-23","v":142},{"d":"2006-11-24","v":30},{"d":"2006-11-25","v":88},{"d":"2006-11-26","v":25},{"d":"2006-12-01","v":20},{"d":"2006-12-02","v":77},{"d":"2006-12-03","v":25},{"d":"2006-12-08","v":20},{"d":"2006-12-13","v":15},{"d":"2006-12-14","v":22},{"d":"2006-12-18","v":12},{"d":"2006-12-23","v":15},{"d":"2006-12-24","v":116},{"d":"2006-12-25","v":30},{"d":"2006-12-26","v":25},{"d":"2006-12-27","v":99},{"d":"2006-12-28","v":25},{"d":"2006-12-31","v":15},
{"d":"2007-01-01","v":40},{"d":"2007-01-02","v":131},{"d":"2007-01-03","v":30},{"d":"2007-01-04","v":15},{"d":"2007-01-07","v":12},{"d":"2007-01-08","v":103},{"d":"2007-01-09","v":30},{"d":"2007-01-10","v":15},{"d":"2007-01-15","v":15},{"d":"2007-01-16","v":66},{"d":"2007-01-17","v":20},{"d":"2007-01-19","v":15},{"d":"2007-01-27","v":10},{"d":"2007-02-06","v":8},{"d":"2007-02-16","v":6},{"d":"2007-02-26","v":8},{"d":"2007-03-01","v":15},{"d":"2007-03-02","v":120},{"d":"2007-03-03","v":1400},{"d":"2007-03-04","v":536},{"d":"2007-03-05","v":131},{"d":"2007-03-06","v":80},{"d":"2007-03-07","v":44},{"d":"2007-03-09","v":30},{"d":"2007-03-11","v":25},{"d":"2007-03-12","v":149},{"d":"2007-03-13","v":60},{"d":"2007-03-14","v":40},{"d":"2007-03-16","v":45},{"d":"2007-03-18","v":30},{"d":"2007-03-21","v":30},{"d":"2007-03-22","v":35},{"d":"2007-03-23","v":118},{"d":"2007-03-24","v":79},{"d":"2007-03-25","v":60},{"d":"2007-03-26","v":50},{"d":"2007-03-28","v":40},{"d":"2007-03-30","v":45},{"d":"2007-04-01","v":40},{"d":"2007-04-02","v":96},{"d":"2007-04-03","v":60},{"d":"2007-04-04","v":50},{"d":"2007-04-05","v":88},{"d":"2007-04-06","v":55},{"d":"2007-04-08","v":50},{"d":"2007-04-10","v":45},{"d":"2007-04-12","v":50},{"d":"2007-04-13","v":149},{"d":"2007-04-14","v":80},{"d":"2007-04-15","v":712},{"d":"2007-04-16","v":959},{"d":"2007-04-17","v":160},{"d":"2007-04-18","v":130},{"d":"2007-04-19","v":110},{"d":"2007-04-21","v":88},{"d":"2007-04-23","v":70},{"d":"2007-04-25","v":55},{"d":"2007-04-26","v":60},{"d":"2007-04-27","v":171},{"d":"2007-04-28","v":60},{"d":"2007-04-29","v":153},{"d":"2007-04-30","v":60},{"d":"2007-05-02","v":45},{"d":"2007-05-05","v":40},{"d":"2007-05-09","v":35},{"d":"2007-05-10","v":30},{"d":"2007-05-11","v":140},{"d":"2007-05-12","v":35},{"d":"2007-05-15","v":30},{"d":"2007-05-16","v":40},{"d":"2007-05-17","v":186},{"d":"2007-05-18","v":60},{"d":"2007-05-19","v":110},{"d":"2007-05-20","v":100},{"d":"2007-05-21","v":311},{"d":"2007-05-22","v":90},{"d":"2007-05-23","v":60},{"d":"2007-05-25","v":40},{"d":"2007-05-29","v":30},{"d":"2007-06-01","v":25},{"d":"2007-06-02","v":40},{"d":"2007-06-03","v":131},{"d":"2007-06-04","v":50},{"d":"2007-06-05","v":272},{"d":"2007-06-06","v":70},{"d":"2007-06-07","v":40},{"d":"2007-06-09","v":30},{"d":"2007-06-10","v":164},{"d":"2007-06-11","v":40},{"d":"2007-06-13","v":25},{"d":"2007-06-17","v":18},{"d":"2007-06-21","v":12},{"d":"2007-06-26","v":10},{"d":"2007-06-30","v":8}
]
},
"concat": [
{
  "width": 854, "height": 468,
  "title": {"text": "Water Temperature at I93-NTC-01", "offset": -46},
  "layer": [
    {"data": {"name": "temp"},
     "mark": {"type": "line", "color": "#000080", "strokeWidth": 2.2, "strokeJoin": "round", "invalid": "break-paths-show-domains"},
     "encoding": {
       "x": {"field": "d", "type": "temporal", "title": "Date",
             "scale": {"type": "utc", "domain": [{"year":2006,"month":7,"date":1,"utc":true},{"year":2007,"month":6,"date":30,"utc":true}], "range": [95, 819.3]},
             "axis": {"format": "%m/%d/%y", "offset": -144, "values": [{"year":2006,"month":7,"date":1,"utc":true},{"year":2006,"month":8,"date":1,"utc":true},{"year":2006,"month":9,"date":1,"utc":true},{"year":2006,"month":10,"date":2,"utc":true},{"year":2006,"month":11,"date":2,"utc":true},{"year":2006,"month":12,"date":3,"utc":true},{"year":2007,"month":1,"date":3,"utc":true},{"year":2007,"month":2,"date":3,"utc":true},{"year":2007,"month":3,"date":6,"utc":true},{"year":2007,"month":4,"date":6,"utc":true},{"year":2007,"month":5,"date":7,"utc":true},{"year":2007,"month":6,"date":7,"utc":true}]}},
       "y": {"field": "v", "type": "quantitative", "title": "deg C",
             "scale": {"domain": [0, 30], "range": [324, 99], "nice": false, "zero": false},
             "axis": {"values": [0,5,10,15,20,25,30], "offset": -95, "titlePadding": 13}}
     }},
    {"data": {"values": [{}]},
     "mark": {"type": "rule", "color": "#808080", "strokeWidth": 2},
     "encoding": {"x": {"datum": {"year":2006,"month":7,"date":1,"utc":true}, "title": "Date"}, "x2": {"datum": {"year":2007,"month":6,"date":30,"utc":true}}, "y": {"datum": 30, "title": "deg C"}}},
    {"data": {"values": [{}]},
     "mark": {"type": "rule", "color": "#808080", "strokeWidth": 2},
     "encoding": {"x": {"datum": {"year":2007,"month":6,"date":30,"utc":true}, "title": "Date"}, "y": {"datum": 0, "title": "deg C"}, "y2": {"datum": 30}}}
  ]
},
{
  "width": 850, "height": 468,
  "title": {"text": "Chloride Concentration at I93-NTC-01", "subtitle": ["The blue line is from specific conductance measurements. The red dots are chloride measurements", "made by the DES Laboratory."], "offset": -98, "subtitlePadding": 8},
  "layer": [
    {"data": {"name": "chl"},
     "mark": {"type": "line", "color": "#000080", "strokeWidth": 2.2, "strokeJoin": "round", "invalid": "break-paths-show-domains"},
     "encoding": {
       "x": {"field": "d", "type": "temporal", "title": "Date",
             "scale": {"type": "utc", "domain": [{"year":2006,"month":7,"date":1,"utc":true},{"year":2007,"month":6,"date":30,"utc":true}], "range": [113, 819.3]},
             "axis": {"format": "%m/%d/%y", "offset": -144, "values": [{"year":2006,"month":7,"date":1,"utc":true},{"year":2006,"month":8,"date":1,"utc":true},{"year":2006,"month":9,"date":1,"utc":true},{"year":2006,"month":10,"date":2,"utc":true},{"year":2006,"month":11,"date":2,"utc":true},{"year":2006,"month":12,"date":3,"utc":true},{"year":2007,"month":1,"date":3,"utc":true},{"year":2007,"month":2,"date":3,"utc":true},{"year":2007,"month":3,"date":6,"utc":true},{"year":2007,"month":4,"date":6,"utc":true},{"year":2007,"month":5,"date":7,"utc":true},{"year":2007,"month":6,"date":7,"utc":true}]}},
       "y": {"field": "v", "type": "quantitative", "title": "mg Cl/L",
             "scale": {"domain": [0, 1000], "range": [324, 97], "nice": false, "zero": false},
             "axis": {"values": [0,200,400,600,800,1000], "offset": -113, "titlePadding": 11}}
     }},
    {"data": {"values": [{}]},
     "mark": {"type": "rule", "strokeWidth": 3},
     "encoding": {"x": {"datum": {"year":2006,"month":7,"date":1,"utc":true}, "title": "Date"}, "x2": {"datum": {"year":2007,"month":6,"date":30,"utc":true}}, "y": {"datum": 230, "title": "mg Cl/L"},
       "color": {"datum": "Chronic Standard (230 mg/L)", "scale": {"domain": ["Chronic Standard (230 mg/L)", "Acute Standard (860 mg/L)"], "range": ["#ff0000", "#ff00ff"]},
                 "legend": {"orient": "none", "legendX": 78, "legendY": 419, "direction": "horizontal", "columns": 2, "columnPadding": 211, "title": null, "labelFont": "Liberation Sans", "labelFontSize": 18, "labelColor": "#000000", "labelLimit": 400, "symbolOpacity": 0, "symbolSize": 0, "symbolStrokeWidth": 0, "labelOffset": 0, "padding": 0}}}},
    {"data": {"values": [{}]},
     "mark": {"type": "rule", "strokeWidth": 3},
     "encoding": {"x": {"datum": {"year":2006,"month":7,"date":1,"utc":true}, "title": "Date"}, "x2": {"datum": {"year":2007,"month":6,"date":30,"utc":true}}, "y": {"datum": 860, "title": "mg Cl/L"},
       "color": {"datum": "Acute Standard (860 mg/L)"}}},
    {"data": {"name": "lab"},
     "mark": {"type": "point", "shape": "diamond", "filled": true, "color": "#ff0000", "size": 130, "opacity": 1},
     "encoding": {"x": {"field": "d", "type": "temporal", "title": "Date"}, "y": {"field": "v", "type": "quantitative", "title": "mg Cl/L"}}},
    {"data": {"values": [{}]},
     "mark": {"type": "rule", "color": "#808080", "strokeWidth": 2},
     "encoding": {"x": {"datum": {"year":2006,"month":7,"date":1,"utc":true}, "title": "Date"}, "x2": {"datum": {"year":2007,"month":6,"date":30,"utc":true}}, "y": {"datum": 1000, "title": "mg Cl/L"}}},
    {"data": {"values": [{}]},
     "mark": {"type": "rule", "color": "#808080", "strokeWidth": 2},
     "encoding": {"x": {"datum": {"year":2007,"month":6,"date":30,"utc":true}, "title": "Date"}, "y": {"datum": 0, "title": "mg Cl/L"}, "y2": {"datum": 1000}}}
  ]
},
{
  "width": 854, "height": 466,
  "title": {"text": "Flow at I93-NTC-01", "subtitle": "Flow estimated by transposition", "offset": -69, "subtitlePadding": 4},
  "layer": [
    {"data": {"name": "flow"},
     "mark": {"type": "line", "color": "#000080", "strokeWidth": 2.2, "strokeJoin": "round"},
     "encoding": {
       "x": {"field": "d", "type": "temporal", "title": "Date",
             "scale": {"type": "utc", "domain": [{"year":2006,"month":7,"date":1,"utc":true},{"year":2007,"month":6,"date":30,"utc":true}], "range": [91.3, 819.7]},
             "axis": {"format": "%m/%d/%y", "offset": -140.3, "values": [{"year":2006,"month":7,"date":1,"utc":true},{"year":2006,"month":8,"date":1,"utc":true},{"year":2006,"month":9,"date":1,"utc":true},{"year":2006,"month":10,"date":2,"utc":true},{"year":2006,"month":11,"date":2,"utc":true},{"year":2006,"month":12,"date":3,"utc":true},{"year":2007,"month":1,"date":3,"utc":true},{"year":2007,"month":2,"date":3,"utc":true},{"year":2007,"month":3,"date":6,"utc":true},{"year":2007,"month":4,"date":6,"utc":true},{"year":2007,"month":5,"date":7,"utc":true},{"year":2007,"month":6,"date":7,"utc":true}]}},
       "y": {"field": "v", "type": "quantitative", "title": "cfs",
             "scale": {"domain": [0, 25], "range": [325.7, 99], "nice": false, "zero": false},
             "axis": {"values": [0,5,10,15,20,25], "offset": -91.3, "titlePadding": 4}}
     }},
    {"data": {"values": [{}]},
     "mark": {"type": "rule", "color": "#808080", "strokeWidth": 2},
     "encoding": {"x": {"datum": {"year":2006,"month":7,"date":1,"utc":true}, "title": "Date"}, "x2": {"datum": {"year":2007,"month":6,"date":30,"utc":true}}, "y": {"datum": 25, "title": "cfs"}}},
    {"data": {"values": [{}]},
     "mark": {"type": "rule", "color": "#808080", "strokeWidth": 2},
     "encoding": {"x": {"datum": {"year":2007,"month":6,"date":30,"utc":true}, "title": "Date"}, "y": {"datum": 0, "title": "cfs"}, "y2": {"datum": 25}}}
  ]
},
{
  "width": 850, "height": 466,
  "title": {"text": "Chloride Export at I93-NTC-01", "offset": -48},
  "layer": [
    {"data": {"name": "exp"},
     "mark": {"type": "line", "color": "#000080", "strokeWidth": 2.2, "strokeJoin": "round"},
     "encoding": {
       "x": {"field": "d", "type": "temporal", "title": "Date",
             "scale": {"type": "utc", "domain": [{"year":2006,"month":7,"date":1,"utc":true},{"year":2007,"month":6,"date":30,"utc":true}], "range": [113, 822.3]},
             "axis": {"format": "%m/%d/%y", "offset": -137.7, "values": [{"year":2006,"month":7,"date":1,"utc":true},{"year":2006,"month":8,"date":1,"utc":true},{"year":2006,"month":9,"date":1,"utc":true},{"year":2006,"month":10,"date":2,"utc":true},{"year":2006,"month":11,"date":2,"utc":true},{"year":2006,"month":12,"date":3,"utc":true},{"year":2007,"month":1,"date":3,"utc":true},{"year":2007,"month":2,"date":3,"utc":true},{"year":2007,"month":3,"date":6,"utc":true},{"year":2007,"month":4,"date":6,"utc":true},{"year":2007,"month":5,"date":7,"utc":true},{"year":2007,"month":6,"date":7,"utc":true}]}},
       "y": {"field": "v", "type": "quantitative", "title": "tons Cl per year",
             "scale": {"domain": [0, 1500], "range": [328.3, 99], "nice": false, "zero": false},
             "axis": {"values": [0,300,600,900,1200,1500], "offset": -113, "titlePadding": 14}}
     }},
    {"data": {"values": [{}]},
     "mark": {"type": "rule", "color": "#808080", "strokeWidth": 2},
     "encoding": {"x": {"datum": {"year":2006,"month":7,"date":1,"utc":true}, "title": "Date"}, "x2": {"datum": {"year":2007,"month":6,"date":30,"utc":true}}, "y": {"datum": 1500, "title": "tons Cl per year"}}},
    {"data": {"values": [{}]},
     "mark": {"type": "rule", "color": "#808080", "strokeWidth": 2},
     "encoding": {"x": {"datum": {"year":2007,"month":6,"date":30,"utc":true}, "title": "Date"}, "y": {"datum": 0, "title": "tons Cl per year"}, "y2": {"datum": 1500}}}
  ]
}
]
}
